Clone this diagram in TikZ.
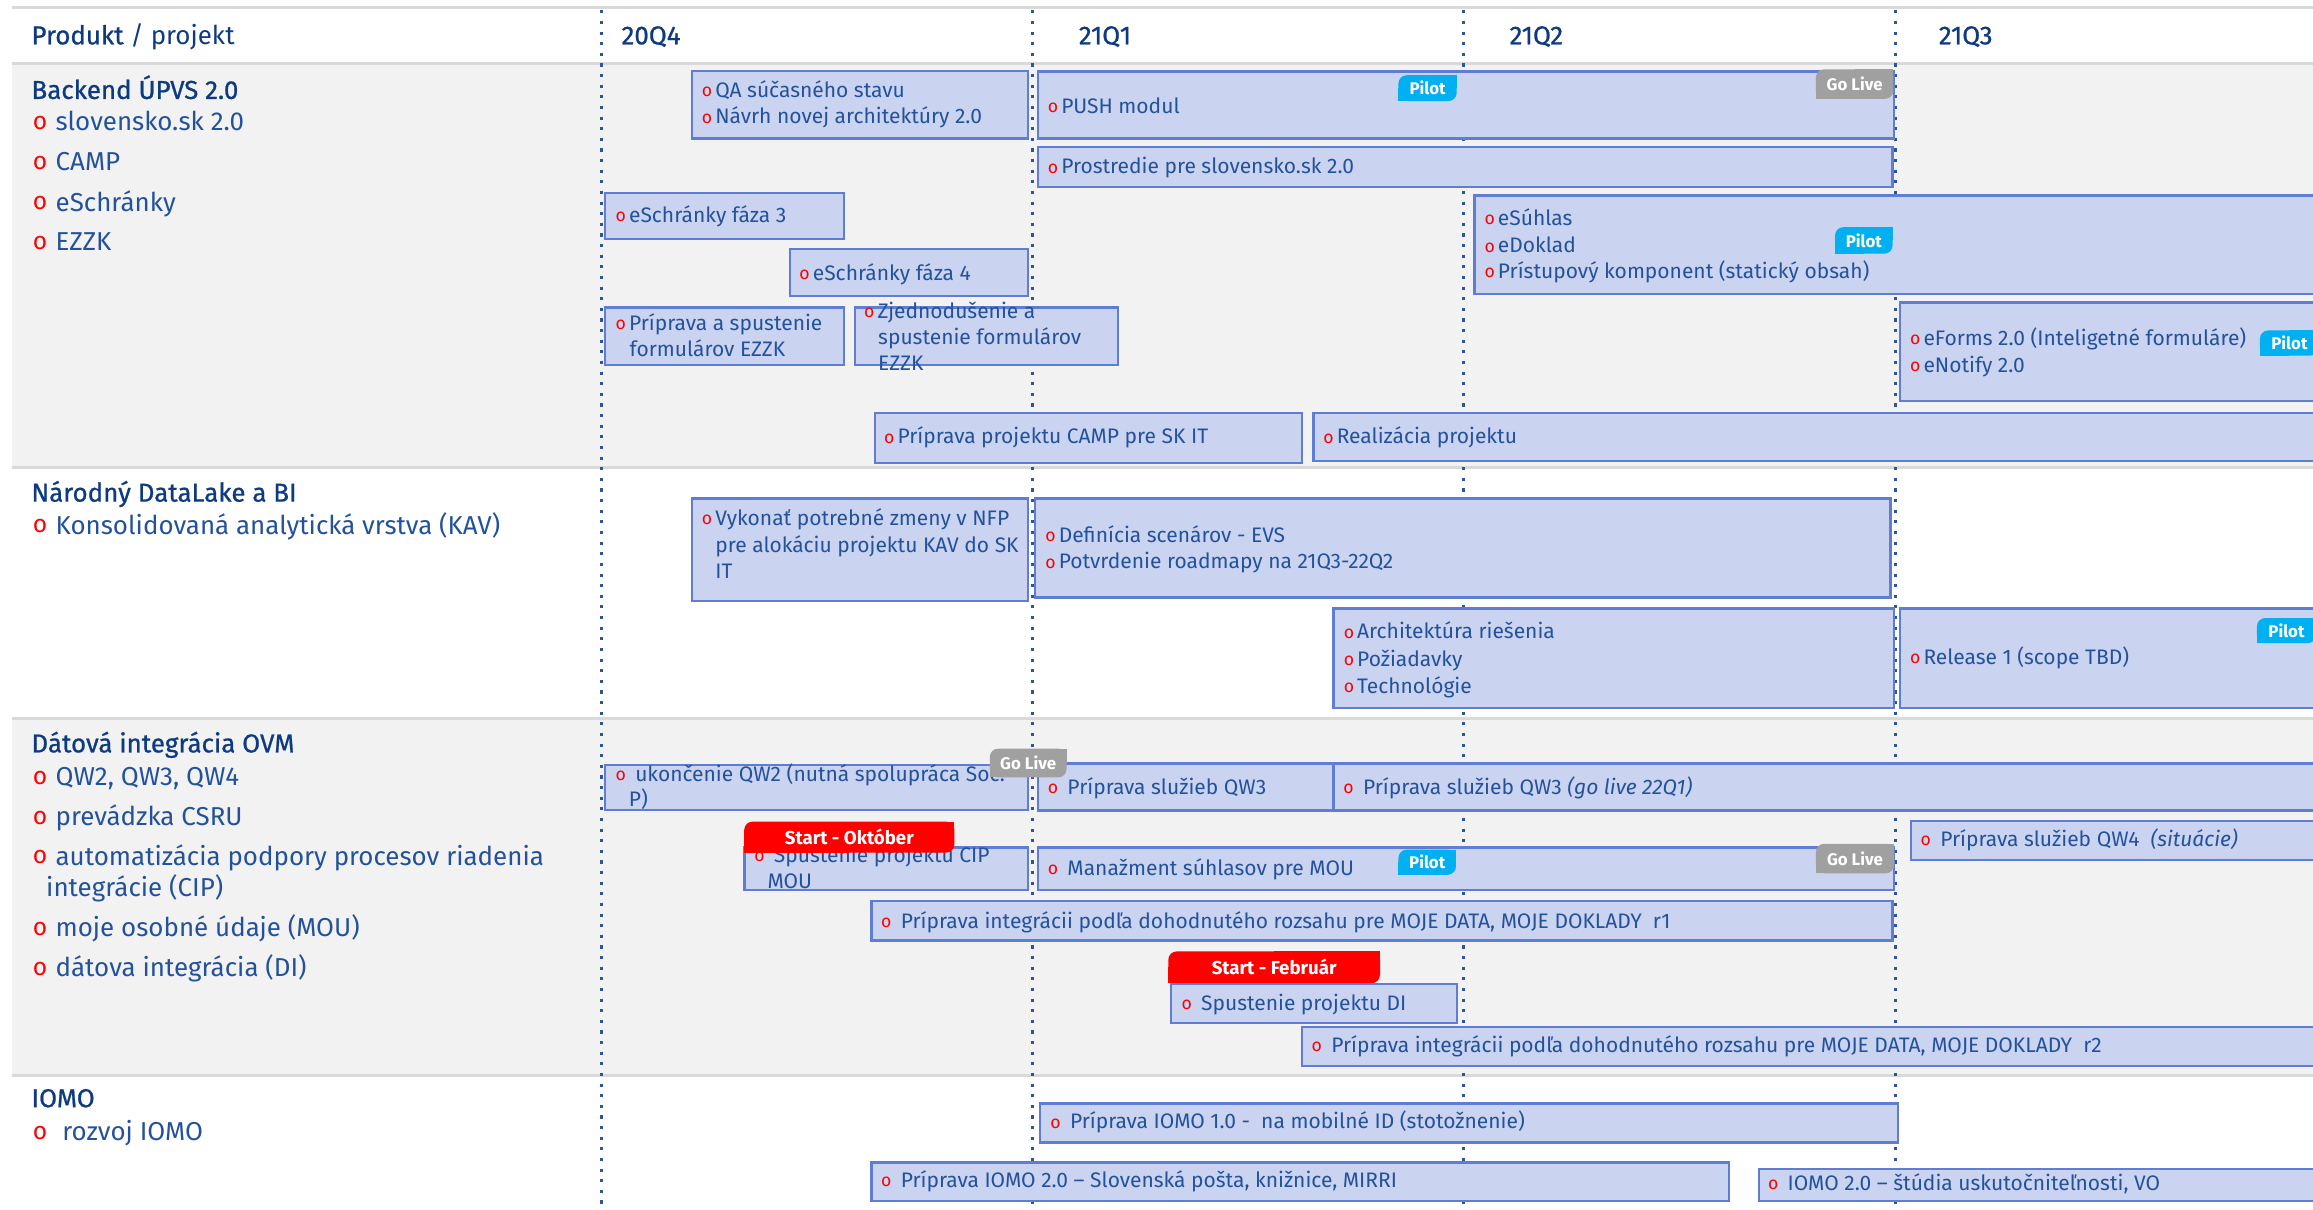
\documentclass[tikz,border=0pt]{standalone}
\usepackage{fontspec}
\setmainfont{Fira Sans}
\newfontfamily\headfont{Fira Sans}[FakeBold=0.8]
\usepackage{xcolor}

\definecolor{bandgray}{RGB}{242,242,242}
\definecolor{sepgray}{RGB}{217,217,217}
\definecolor{dotblue}{RGB}{47,85,151}
\definecolor{boxfill}{RGB}{202,211,240}
\definecolor{boxline}{RGB}{95,125,210}
\definecolor{txtblue}{RGB}{35,82,155}
\definecolor{headblue}{RGB}{14,58,128}
\definecolor{pilotcyan}{RGB}{0,176,240}
\definecolor{livegray}{RGB}{160,160,160}
\definecolor{startred}{RGB}{255,0,0}

% red o bullets
\newcommand{\bo}{\raisebox{0.3pt}{\textcolor{red}{\fontsize{6.8}{6}\selectfont o}}\hspace{1.2pt}}
\newcommand{\bow}{\raisebox{0.3pt}{\textcolor{red}{\fontsize{6.8}{6}\selectfont o}}\hspace{3.6pt}}
\newcommand{\lo}{\raisebox{0.5pt}{\textcolor{red}{\fontsize{9.5}{8}\selectfont o}}\hspace{3.2pt}}
% badge: name, colour, x1, y1, x2, y2, text
\newcommand{\tagbadge}[7]{%
  \fill[#2,rounded corners=3.2pt] (#3,#4) rectangle (#5,#6);
  \fill[#2] (#3,{(#4+#6)/2}) rectangle ({(#3+#5)/2},#6);
  \fill[#2] ({(#3+#5)/2},#4) rectangle (#5,{(#4+#6)/2});
  \node (#1) [badgetext] at ({(#3+#5)/2},{(#4+#6)/2}) {#7};
}

\begin{document}
\begin{tikzpicture}[x=0.02cm,y=-0.02cm,
  sepline/.style={draw=sepgray,line width=1.1pt},
  qline/.style={draw=dotblue,line width=1.1pt,dash pattern=on 1.2pt off 2.9pt},
  tbox/.style={draw=boxline,fill=boxfill,line width=0.9pt},
  head/.style={anchor=west,inner sep=0pt,text=headblue,font=\fontsize{10}{12}\selectfont,text height=6.9pt,text depth=0pt},
  item/.style={anchor=west,inner sep=0pt,text=txtblue,font=\fontsize{10}{12}\selectfont,text height=6.9pt,text depth=0pt},
  ttext/.style={anchor=west,inner sep=0pt,text=txtblue,font=\fontsize{8.1}{10}\selectfont,text height=5.6pt,text depth=0pt},
  badgetext/.style={inner sep=0pt,text=white,font=\bfseries\fontsize{6.5}{7}\selectfont}]
\useasboundingbox (0,0) rectangle (1568,820);
\clip (0,0) rectangle (1568,820);
% bands
\fill[bandgray] (8,43) rectangle (1568,317);
\fill[bandgray] (8,487) rectangle (1568,729);
\draw[sepline] (8,5) -- (1568,5);
\foreach \y in {43,317,487,729} \draw[sepline] (8,\y) -- (1568,\y);
\foreach \x in {408,700,992,1285} \draw[qline] (\x,7) -- (\x,820);
% header
\node (prod) [head] at (21,24) {{\headfont Produkt} / projekt};
\node (q20q4) [head] at (421,24) {\headfont 20Q4};
\node (q21q1) [head] at (731,24) {\headfont 21Q1};
\node (q21q2) [head] at (1023,24) {\headfont 21Q2};
\node (q21q3) [head] at (1314,24) {\headfont 21Q3};
% left column
\node (backend) [head] at (21,61) {\headfont Backend ÚPVS 2.0};
\node (sk) [item] at (22,82.5) {\lo slovensko.sk 2.0};
\node (camp) [item] at (22,109.5) {\lo CAMP};
\node (esch) [item] at (22,137) {\lo eSchránky};
\node (ezzk) [item] at (22,164) {\lo EZZK};
\node (datalake) [head] at (21,334) {\headfont Národný DataLake a BI};
\node (kav) [item] at (22,356) {\lo Konsolidovaná analytická vrstva (KAV)};
\node (dataint) [head] at (21,504) {\headfont Dátová integrácia OVM};
\node (qw) [item] at (22,526.5) {\lo QW2, QW3, QW4};
\node (csru) [item] at (22,553.5) {\lo prevádzka CSRU};
\node (cipa) [item] at (22,580.5) {\lo automatizácia podpory procesov riadenia};
\node (cipb) [item] at (31,602) {integrácie (CIP)};
\node (mouitem) [item] at (22,629) {\lo moje osobné údaje (MOU)};
\node (diitem) [item] at (22,656) {\lo dátova integrácia (DI)};
\node (iomo) [head] at (21,744.5) {\headfont IOMO};
\node (rozvoj) [item] at (22,767) {\lo\hspace{2.6pt}rozvoj IOMO};
% Backend ÚPVS 2.0
\draw[tbox] (469,48) rectangle (697,94);
\node (qa1) [ttext] at (475.5,61) {\bo QA súčasného stavu};
\node (qa2) [ttext] at (475.5,79) {\bo Návrh novej architektúry 2.0};
\draw[tbox] (703.5,48.5) rectangle (1284,94);
\node (push) [ttext] at (710,72) {\bo PUSH modul};
\draw[tbox] (703.5,99.5) rectangle (1283,127);
\node (prost) [ttext] at (710,113) {\bo Prostredie pre slovensko.sk 2.0};
\draw[tbox] (410,131) rectangle (572,162);
\node (esch3) [ttext] at (417,146) {\bo eSchránky fáza 3};
\draw[tbox] (535.5,169) rectangle (697,200.5);
\node (esch4) [ttext] at (541.6,185) {\bo eSchránky fáza 4};
\draw[tbox] (999.5,132.5) rectangle (1575,199.5);
\node (esuh) [ttext] at (1006,148) {\bo eSúhlas};
\node (edok) [ttext] at (1006,166.5) {\bo eDoklad};
\node (prist) [ttext] at (1006,184) {\bo Prístupový komponent (statický obsah)};
\draw[tbox] (410,208.5) rectangle (572,247.5);
\node (ezzk1) [ttext] at (417,219) {\bo Príprava a spustenie};
\node (ezzk2) [ttext] at (426.5,236.5) {formulárov EZZK};
\draw[tbox] (579.5,208.5) rectangle (758,247.5);
\node (zjed1) [ttext] at (585.5,211) {\bo Zjednodušenie a};
\node (zjed2) [ttext] at (595,228.5) {spustenie formulárov};
\node (zjed3) [ttext] at (595,246) {EZZK};
\draw[tbox] (1288,205) rectangle (1575,272);
\node (eforms) [ttext] at (1294.5,229) {\bo eForms 2.0 (Inteligetné formuláre)};
\node (enotify) [ttext] at (1294.5,247.5) {\bo eNotify 2.0};
\draw[tbox] (593,280) rectangle (882.5,314);
\node (campit) [ttext] at (599,296) {\bo Príprava projektu CAMP pre SK IT};
\draw[tbox] (890.5,280) rectangle (1575,312.5);
\node (realiz) [ttext] at (896.8,296) {\bo Realizácia projektu};
% Národný DataLake a BI
\draw[tbox] (469,338) rectangle (697,407.5);
\node (kav1) [ttext] at (475.5,351.5) {\bo Vykonať potrebné zmeny v NFP};
\node (kav2) [ttext] at (484.6,369.5) {pre alokáciu projektu KAV do SK};
\node (kav3) [ttext] at (484.6,387.5) {IT};
\draw[tbox] (701.5,338) rectangle (1281.5,405);
\node (evs) [ttext] at (708.3,362.7) {\bo Definícia scenárov - EVS};
\node (roadmap) [ttext] at (708.3,380.8) {\bo Potvrdenie roadmapy na 21Q3-22Q2};
\draw[tbox] (904,412.5) rectangle (1284,480);
\node (arch) [ttext] at (910.6,428.2) {\bo Architektúra riešenia};
\node (poz) [ttext] at (910.6,446.8) {\bo Požiadavky};
\node (tech) [ttext] at (910.6,464.9) {\bo Technológie};
\draw[tbox] (1288,412.5) rectangle (1575,480);
\node (rel1) [ttext] at (1294.5,445.7) {\bo Release 1 (scope TBD)};
% Dátová integrácia OVM
\draw[tbox] (410,518.5) rectangle (697,549);
\node (qw2a) [ttext] at (417,525) {\bow ukončenie QW2 (nutná spolupráca Soc.};
\node (qw2b) [ttext] at (426,541.7) {P)};
\draw[tbox] (703.6,517.5) rectangle (904,549.5);
\node (qw3) [ttext] at (710,533.8) {\bow Príprava služieb QW3};
\draw[tbox] (904,517.5) rectangle (1575,549.5);
\node (qw3live) [ttext] at (910.4,533.8) {\bow Príprava služieb QW3 \textit{(go live 22Q1)}};
\draw[tbox] (1295.4,556.4) rectangle (1575,583);
\node (qw4) [ttext] at (1301.7,569) {\bow Príprava služieb QW4\ \ \textit{(situácie)}};
\draw[tbox] (504.6,574.5) rectangle (697,603.4);
\node (cip1) [ttext] at (511,579.7) {\bow Spustenie projektu CIP};
\node (cip2) [ttext] at (520,597.7) {MOU};
\draw[tbox] (703.6,574.5) rectangle (1284,603.4);
\node (mou) [ttext] at (710,588.7) {\bow Manažment súhlasov pre MOU};
\draw[tbox] (590.7,610.8) rectangle (1283,637.5);
\node (intr1) [ttext] at (597,624.2) {\bow Príprava integrácii podľa dohodnutého rozsahu pre MOJE DATA, MOJE DOKLADY\ \ r1};
\draw[tbox] (794,667) rectangle (987.5,693.3);
\node (di) [ttext] at (800.6,679.8) {\bow Spustenie projektu DI};
\draw[tbox] (882.7,696.4) rectangle (1575,722.5);
\node (intr2) [ttext] at (888.8,708.5) {\bow Príprava integrácii podľa dohodnutého rozsahu pre MOJE DATA, MOJE DOKLADY\ \ r2};
% IOMO
\draw[tbox] (705,748) rectangle (1286.8,774.5);
\node (iomo1) [ttext] at (711.7,760.4) {\bow Príprava IOMO 1.0 -\ \ na mobilné ID (stotožnenie)};
\draw[tbox] (590.7,788) rectangle (1172,814);
\node (iomo2) [ttext] at (597,800) {\bow Príprava IOMO 2.0 – Slovenská pošta, knižnice, MIRRI};
\draw[tbox] (1192.5,792.5) rectangle (1575,814);
\node (iomo3) [ttext] at (1198.2,802) {\bow IOMO 2.0 – štúdia uskutočniteľnosti, VO};
% badges
\tagbadge{pilot1}{pilotcyan}{948}{51}{987.5}{68.5}{Pilot}
\tagbadge{live1}{livegray}{1231}{47}{1283.5}{67}{Go Live}
\tagbadge{pilot2}{pilotcyan}{1244}{154}{1283}{172}{Pilot}
\tagbadge{pilot3}{pilotcyan}{1532}{224}{1572}{241}{Pilot}
\tagbadge{pilot4}{pilotcyan}{1530}{419}{1570}{436}{Pilot}
\tagbadge{live2}{livegray}{671}{507.5}{723}{527}{Go Live}
\tagbadge{startokt}{startred}{504.5}{557}{647}{578}{\fontsize{7.2}{8}\selectfont Start - Október}
\tagbadge{pilot5}{pilotcyan}{948}{576}{987}{593}{Pilot}
\tagbadge{live3}{livegray}{1231}{572}{1284}{592}{Go Live}
\tagbadge{startfeb}{startred}{792}{645}{935.5}{666.5}{\fontsize{7.2}{8}\selectfont Start - Február}
\end{tikzpicture}
\end{document}
